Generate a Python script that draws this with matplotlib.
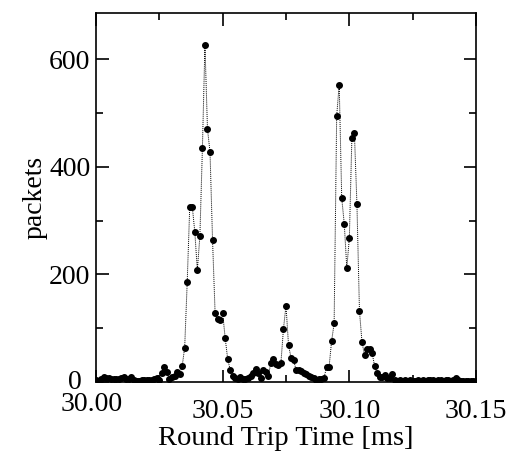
import numpy as np
import matplotlib
matplotlib.use("Agg")
import matplotlib.pyplot as plt
from matplotlib.ticker import MultipleLocator

# =========================
# DATOS
# =========================

# histograma de RTT, bins de 0.001 ms desde 30.000 ms
bin_inicio = 30.000
bin_ancho = 0.001

packets = [
    3, 2, 5, 9, 8, 7, 6, 5, 5, 5,
    7, 9, 6, 5, 9, 3, 2, 2, 3, 4,
    3, 4, 4, 5, 7, 3, 17, 28, 19, 5,
    10, 12, 19, 14, 29, 64, 186, 326, 326, 279,
    208, 271, 435, 627, 470, 428, 264, 129, 118, 116,
    128, 81, 42, 22, 12, 8, 6, 9, 6, 6,
    7, 11, 16, 25, 16, 8, 22, 19, 11, 35,
    43, 33, 31, 36, 99, 142, 68, 45, 41, 22,
    22, 20, 17, 14, 11, 9, 7, 3, 6, 6,
    8, 27, 28, 76, 109, 494, 553, 342, 294, 212,
    267, 453, 463, 331, 132, 74, 50, 61, 61, 53,
    30, 16, 10, 10, 13, 8, 7, 14, 3, 2,
    3, 2, 3, 2, 3, 2, 2, 3, 2, 3,
    2, 3, 4, 3, 2, 3, 3, 2, 4, 3,
    2, 3, 7, 3, 1, 2, 2, 1, 2, 1,
    1,
]

rtt = bin_inicio + bin_ancho * np.arange(len(packets))

x_ticks = [30.00, 30.05, 30.10, 30.15]
x_tick_labels = ["", "30.05", "30.10", "30.15"]
y_ticks = [0, 200, 400, 600]
y_tick_labels = ["", "200", "400", "600"]

# =========================
# GRAFICO
# =========================

plt.rcParams["font.family"] = ["Liberation Serif", "DejaVu Serif"]

fig = plt.figure(figsize=(5.21, 4.57), dpi=100)
ax = fig.add_axes([0.1843, 0.1641, 0.7293, 0.8075])

ax.plot(
    rtt,
    packets,
    color="k",
    linestyle=(0, (1, 1)),
    linewidth=0.7,
    marker="o",
    markersize=4,
    markerfacecolor="k",
    markeredgecolor="k",
)

ax.set_xlim(30.00, 30.15)
ax.set_ylim(0, 686)

ax.set_xticks(x_ticks)
ax.set_xticklabels(x_tick_labels)
ax.set_yticks(y_ticks)
ax.set_yticklabels(y_tick_labels)
ax.xaxis.set_minor_locator(MultipleLocator(0.025))
ax.yaxis.set_minor_locator(MultipleLocator(100))

ax.tick_params(which="both", direction="in", top=True, right=True,
               width=1.2, labelsize=20)
ax.tick_params(which="major", length=9)
ax.tick_params(which="minor", length=5)
ax.tick_params(axis="x", pad=12)
ax.tick_params(axis="y", pad=4)

# las etiquetas del origen van corridas, como en el original
ax.annotate("0", xy=(0, 0), xycoords="axes fraction",
            xytext=(-10, 0), textcoords="offset points",
            ha="right", va="center", fontsize=20)
ax.annotate("30.00", xy=(0, 0), xycoords="axes fraction",
            xytext=(-3.5, -7.5), textcoords="offset points",
            ha="center", va="top", fontsize=20)

for s in ax.spines.values():
    s.set_linewidth(1.2)

ax.set_xlabel("Round Trip Time [ms]", fontsize=20.5, labelpad=2)
ax.set_ylabel("packets", fontsize=20, labelpad=1)

fig.savefig("out.png", dpi=100)
